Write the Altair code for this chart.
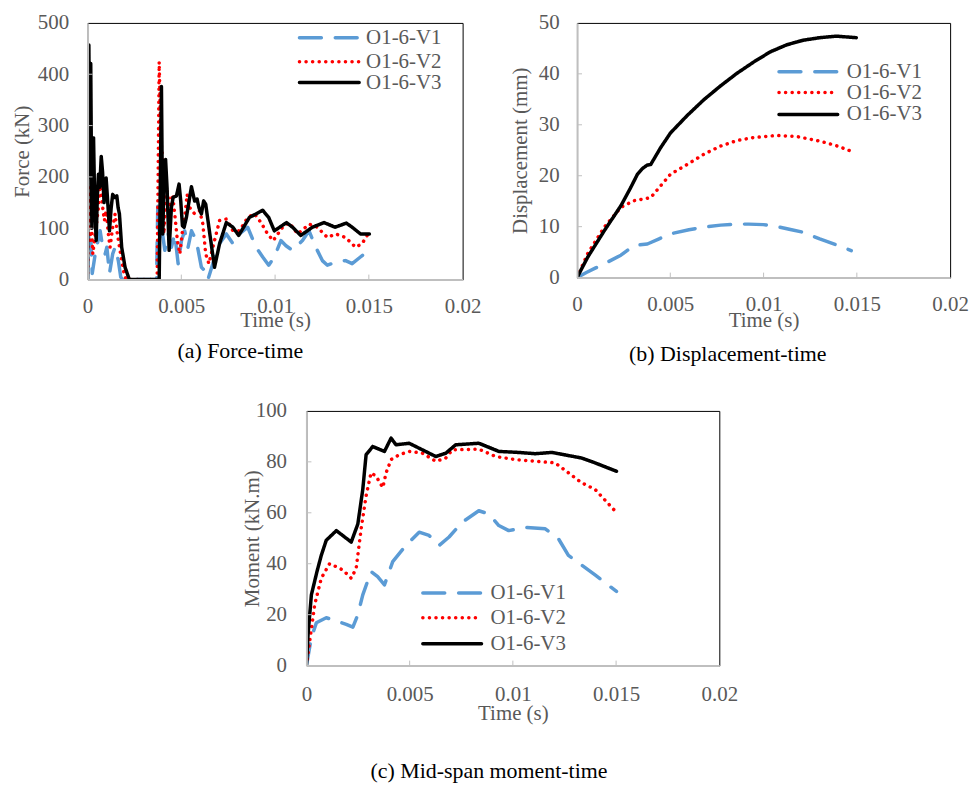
import altair as alt
import pandas as pd

FONT = "Liberation Serif"
TXT = "#595959"
AXG = "#bfbfbf"
SERIES = ["O1-6-V1", "O1-6-V2", "O1-6-V3"]
COLORS = ["#5b9bd5", "#ff0000", "#000000"]
DASHES = [[22, 14], [0.1, 6.5], [1, 0]]
X_TICKS = [0, 0.005, 0.01, 0.015, 0.02]

# ---------------- (a) Force-time ----------------
force_v1_t = [0, 0.00005, 0.00011, 0.00018, 0.00025, 0.00041, 0.00067, 0.00081, 0.00094, 0.00103,
              0.00117, 0.00134, 0.00147, 0.00164, 0.00177, 0.00187, 0.00368, 0.00375, 0.00385, 0.004,
              0.00412, 0.0043, 0.00447, 0.00465, 0.00483, 0.00501, 0.00518, 0.00536, 0.00554, 0.0058,
              0.00607, 0.00624, 0.00642, 0.00668, 0.00704, 0.0074, 0.00775, 0.0081, 0.00854, 0.00898,
              0.00934, 0.00966, 0.00996, 0.01031, 0.01058, 0.01093, 0.01146, 0.01181, 0.01217, 0.01252,
              0.01279, 0.01323, 0.01376, 0.01411, 0.01455, 0.01499]
force_v1 = [0, 89, 50, 76, 12, 50, 95, 63, 50, 63,
            12, 50, 63, 37, 5, 0, 0, 153, 76, 89,
            57, 89, 63, 89, 31, 76, 95, 63, 95, 76,
            24, 18, 0, 31, 70, 89, 70, 89, 102, 63,
            44, 28, 44, 76, 66, 57, 76, 95, 63, 37,
            28, 34, 37, 31, 44, 57]
force_v2_t = [0, 0.00007, 0.00014, 0.0002, 0.00028, 0.00041, 0.00058, 0.00067, 0.00081, 0.0009,
              0.00099, 0.00111, 0.0012, 0.00134, 0.00147, 0.00159, 0.00173, 0.00191, 0.00205, 0.00371,
              0.00382, 0.00391, 0.00398, 0.00407, 0.00421, 0.00439, 0.00453, 0.00465, 0.00479, 0.00492,
              0.00506, 0.00518, 0.00531, 0.00545, 0.00571, 0.00598, 0.00615, 0.0063, 0.00647, 0.00668,
              0.00704, 0.0074, 0.00775, 0.0081, 0.00854, 0.0089, 0.00925, 0.0096, 0.0099, 0.0104,
              0.01075, 0.0112, 0.01182, 0.01225, 0.01279, 0.01323, 0.01376, 0.01429, 0.01464, 0.01496]
force_v2 = [0, 179, 76, 121, 50, 89, 140, 189, 140, 115,
            134, 89, 63, 102, 128, 89, 57, 18, 0, 0,
            424, 269, 244, 89, 179, 140, 166, 128, 76, 50,
            95, 121, 166, 140, 128, 134, 108, 50, 31, 63,
            115, 118, 95, 95, 121, 128, 111, 89, 76, 102,
            111, 89, 108, 102, 82, 89, 82, 63, 70, 89]
force_v3_t = [0, 0.00003, 0.00007, 0.00012, 0.00017, 0.00023, 0.00028, 0.00032, 0.00038, 0.00046,
              0.00052, 0.00058, 0.00065, 0.00073, 0.0008, 0.00088, 0.00094, 0.00099, 0.00106, 0.00117,
              0.00126, 0.00134, 0.00145, 0.00156, 0.00163, 0.0017, 0.00182, 0.002, 0.00223, 0.00382,
              0.00394, 0.00401, 0.00408, 0.00416, 0.00424, 0.00435, 0.00447, 0.00456, 0.00474, 0.00488,
              0.00497, 0.00506, 0.00515, 0.00527, 0.00554, 0.00571, 0.00584, 0.00594, 0.00607, 0.00619,
              0.0063, 0.00647, 0.00677, 0.00704, 0.0074, 0.00775, 0.00806, 0.00863, 0.00934, 0.00966,
              0.00996, 0.01061, 0.01093, 0.01137, 0.01199, 0.01261, 0.0132, 0.0138, 0.01411, 0.01455,
              0.01503]
force_v3 = [0, 300, 457, 200, 421, 100, 270, 276, 150, 76,
            160, 205, 180, 240, 210, 150, 185, 198, 160, 95,
            140, 166, 160, 163, 140, 128, 63, 24, 0, 0,
            376, 89, 200, 234, 179, 57, 140, 160, 163, 186,
            153, 105, 102, 121, 181, 153, 157, 140, 128, 153,
            147, 102, 24, 70, 111, 102, 86, 121, 135, 121,
            95, 111, 102, 86, 102, 111, 102, 110, 102, 89,
            89]

# ---------------- (b) Displacement-time ----------------
disp_v1_t = [0, 0.0005, 0.001, 0.00146, 0.00235, 0.00306, 0.00377, 0.0044, 0.00501, 0.006, 0.00679,
             0.0077, 0.00857, 0.0092, 0.00999, 0.01088, 0.0115, 0.01212, 0.01301, 0.014, 0.0147]
disp_v1 = [0, 1.0, 1.9, 2.7, 4.4, 6.3, 6.6, 7.6, 8.6, 9.4, 9.9,
           10.3, 10.5, 10.5, 10.4, 9.9, 9.4, 8.9, 7.6, 6.3, 5.3]
disp_v2_t = [0, 0.00057, 0.00146, 0.00235, 0.00306, 0.00395, 0.00448, 0.00501, 0.0059, 0.00679,
             0.00768, 0.00857, 0.00946, 0.0107, 0.01177, 0.01301, 0.0139, 0.0147]
disp_v2 = [0, 4.7, 9.9, 13.8, 15.1, 15.7, 18.0, 20.3, 22.2, 24.2,
           25.8, 26.9, 27.5, 27.9, 27.7, 26.8, 25.9, 24.8]
disp_v3_t = [0, 0.00057, 0.00146, 0.00235, 0.00288, 0.00324, 0.0035, 0.00377, 0.00395, 0.00448,
             0.00501, 0.0059, 0.00679, 0.00768, 0.00857, 0.00946, 0.01035, 0.01124, 0.01212, 0.01301,
             0.0139, 0.01497]
disp_v3 = [0, 4.0, 9.2, 14.1, 17.7, 20.3, 21.4, 22.1, 22.2, 25.5,
           28.4, 31.8, 34.9, 37.6, 40.1, 42.3, 44.3, 45.7, 46.6, 47.1,
           47.4, 47.1]

# ---------------- (c) Mid-span moment-time ----------------
mom_v1_t = [0, 0.00024, 0.00048, 0.00096, 0.00145, 0.00193, 0.00225, 0.00249, 0.00273, 0.00313,
            0.00345, 0.00378, 0.00418, 0.00482, 0.00546, 0.00594, 0.00643, 0.00691, 0.00755, 0.00835,
            0.00884, 0.00932, 0.0098, 0.0106, 0.01157, 0.01221, 0.01269, 0.01333, 0.01398, 0.01502]
mom_v1 = [0, 11, 16.8, 18.8, 17.5, 16.2, 15.1, 20, 27.8, 36.9,
          34.9, 31.7, 40.8, 47.2, 52.4, 51.1, 47.2, 50.5, 56.3, 60.8,
          59.5, 55, 53, 54.3, 53.7, 49.8, 43.3, 39.5, 35.6, 29.1]
mom_v2_t = [0, 0.00016, 0.0004, 0.00072, 0.00112, 0.00145, 0.00177, 0.00217, 0.00241, 0.00265,
            0.00289, 0.00313, 0.00337, 0.0037, 0.00386, 0.0041, 0.0045, 0.00498, 0.00562, 0.00627,
            0.00675, 0.00707, 0.00835, 0.00916, 0.01012, 0.01205, 0.01333, 0.01398, 0.01494]
mom_v2 = [0, 9.7, 23.9, 34.3, 40, 38.8, 37.5, 34.3, 38.2, 53.7,
          66.6, 75.7, 74.4, 69.9, 75.7, 80.9, 82.8, 84.1, 83.4, 80.2,
          81.5, 84.7, 85, 82.1, 80.9, 79.6, 71.8, 69.2, 60.8]
mom_v3_t = [0, 0.00008, 0.00024, 0.00051, 0.00072, 0.00096, 0.00145, 0.00177, 0.00217, 0.00249,
            0.00273, 0.00289, 0.00321, 0.00378, 0.0041, 0.00434, 0.00498, 0.00562, 0.00627, 0.00675,
            0.00723, 0.00835, 0.00932, 0.01028, 0.01108, 0.01189, 0.01333, 0.01398, 0.01502]
mom_v3 = [0, 12.3, 27.8, 36.9, 43.3, 49.2, 53, 51, 48.5, 55.6,
          69.2, 82.8, 86, 84.1, 89.3, 86.7, 87.3, 84.7, 82.1, 83.4,
          86.7, 87.3, 84.1, 83.7, 83.2, 83.7, 81.5, 79.6, 76.3]

COLOR_ENC = alt.Color("series:N", scale=alt.Scale(domain=SERIES, range=COLORS), legend=None)
DASH_ENC = alt.StrokeDash("series:N", scale=alt.Scale(domain=SERIES, range=DASHES), legend=None)


def long_df(pairs):
    frames = []
    for name, (ts, vs) in zip(SERIES, pairs):
        frames.append(pd.DataFrame({"t": ts, "v": vs, "series": name}))
    return pd.concat(frames, ignore_index=True)


def legend_layers(x0, x1, xlab, rows):
    out = []
    for name, py in zip(SERIES, rows):
        d = pd.DataFrame({"series": [name]})
        out.append(alt.Chart(d).mark_rule(strokeWidth=3.5, strokeCap="round").encode(
            x=alt.value(x0), x2=alt.value(x1), y=alt.value(py),
            color=COLOR_ENC, strokeDash=DASH_ENC))
        out.append(alt.Chart(d).mark_text(align="left", baseline="middle", font=FONT,
                                          fontSize=21, color=TXT).encode(
            x=alt.value(xlab), y=alt.value(py), text="series:N"))
    return out


def panel(df, ymax, ystep, ytitle, W, H, leg, caption, cap_dx, cap_off,
          xlab_pad, xtitle_y, ytitle_x, ylab_pad):
    y_ticks = list(range(0, ymax + 1, ystep))
    lines = alt.Chart(df).mark_line(strokeWidth=3.5, strokeCap="round", strokeJoin="round",
                                    clip=True).encode(
        x=alt.X("t:Q", title="Time (s)",
                scale=alt.Scale(domain=[0, 0.02], nice=False, zero=False),
                axis=alt.Axis(values=X_TICKS, format="~g", grid=False, ticks=False,
                              domainColor=AXG, domainWidth=2, labelFont=FONT, labelFontSize=21,
                              labelColor=TXT, labelPadding=xlab_pad, labelFlush=False,
                              labelOverlap=False, titleFont=FONT, titleFontSize=21,
                              titleColor=TXT, titleFontWeight="normal", titleY=xtitle_y,
                              titleBaseline="middle", zindex=1)),
        y=alt.Y("v:Q", title=ytitle,
                scale=alt.Scale(domain=[0, ymax], nice=False),
                axis=alt.Axis(values=y_ticks, format="d", grid=False, ticks=False,
                              domainColor=AXG, domainWidth=2, labelFont=FONT, labelFontSize=21,
                              labelColor=TXT, labelPadding=ylab_pad, labelFlush=False,
                              titleFont=FONT, titleFontSize=21, titleColor=TXT,
                              titleFontWeight="normal", titleX=ytitle_x, titleY=H / 2,
                              titleAngle=270, titleAlign="center", titleBaseline="middle",
                              zindex=1)),
        color=COLOR_ENC,
        strokeDash=DASH_ENC,
    )
    xt = alt.Chart(pd.DataFrame({"t": X_TICKS[1:-1]})).mark_rule(color=AXG, strokeWidth=1).encode(
        x="t:Q", y=alt.value(H), y2=alt.value(H - 5))
    yt = alt.Chart(pd.DataFrame({"v": y_ticks[1:-1]})).mark_rule(color=AXG, strokeWidth=1).encode(
        y="v:Q", x=alt.value(0), x2=alt.value(5))
    return alt.layer(lines, xt, yt, *legend_layers(*leg)).properties(
        width=W, height=H,
        title=alt.TitleParams(caption, orient="bottom", anchor="middle", font=FONT, fontSize=22,
                              fontWeight="normal", color="black", dx=cap_dx, offset=cap_off))


df_a = long_df([(force_v1_t, force_v1), (force_v2_t, force_v2), (force_v3_t, force_v3)])
df_b = long_df([(disp_v1_t, disp_v1), (disp_v2_t, disp_v2), (disp_v3_t, disp_v3)])
df_c = long_df([(mom_v1_t, mom_v1), (mom_v2_t, mom_v2), (mom_v3_t, mom_v3)])

pa = panel(df_a, 500, 100, "Force (kN)", 377, 258, (213, 273, 280, [15, 39, 60]),
           "(a) Force-time", -35, 11, 16, 41, -65, 19)
pb = panel(df_b, 50, 10, "Displacement (mm)", 375, 256, (203, 262, 271, [49, 70, 92]),
           "(b) Displacement-time", -36, 14, 16, 43, -57, 18)
pc = panel(df_c, 100, 20, "Moment (kN.m)", 415, 256, (117, 176, 185, [183, 208, 234]),
           "(c) Mid-span moment-time", -24, 38, 18, 48, -54, 20)

spacer = alt.Chart(pd.DataFrame({"k": [0]})).mark_point(opacity=0).encode(
    x=alt.value(0), y=alt.value(0)).properties(width=1, height=256,
                                               view=alt.ViewBackground(stroke=None))

top = alt.hconcat(pa, pb, spacing=115, bounds="flush").resolve_scale(
    color="independent", strokeDash="independent")
bottom = alt.hconcat(spacer, pc, spacing=219, bounds="flush").resolve_scale(
    color="independent", strokeDash="independent")
chart = alt.vconcat(top, bottom, spacing=390, bounds="flush").resolve_scale(
    color="independent", strokeDash="independent").properties(
    padding={"left": 11, "top": 9, "right": 5, "bottom": 5},
    background="white").configure_view(stroke="black", strokeWidth=1)

chart.save("out.html", embed_options={"renderer": "svg", "actions": False})
